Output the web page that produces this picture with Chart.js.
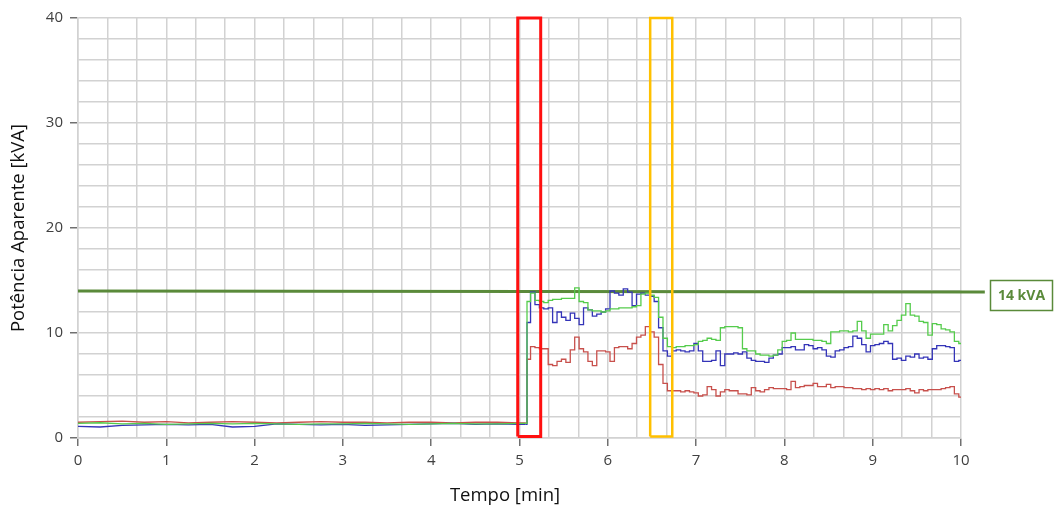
<!DOCTYPE html>
<html>
<head>
<meta charset="utf-8">
<script src="https://cdn.jsdelivr.net/npm/chart.js@4.4.1/dist/chart.umd.min.js"></script>
<style>
  html, body { margin: 0; padding: 0; background: #ffffff; }
  #wrap { width: 1054px; height: 512px; }
</style>
</head>
<body>
<div id="wrap"><canvas id="chart" width="1054" height="512"></canvas></div>
<script>
// Time axis (minutes): idle period sampled coarsely, load period finely
const idleTimes = [0, 0.25, 0.5, 0.75, 1, 1.25, 1.5, 1.75, 2, 2.25, 2.5, 2.75, 3, 3.25, 3.5, 3.75, 4, 4.25, 4.5, 4.75, 5, 5.07];
const loadTimes = [
  5.1, 5.15, 5.2, 5.25, 5.3, 5.35, 5.4, 5.45, 5.5, 5.55,
  5.6, 5.65, 5.7, 5.75, 5.8, 5.85, 5.9, 5.95, 6, 6.05,
  6.1, 6.15, 6.2, 6.25, 6.3, 6.35, 6.4, 6.45, 6.5, 6.55,
  6.6, 6.65, 6.7, 6.75, 6.8, 6.85, 6.9, 6.95, 7, 7.05,
  7.1, 7.15, 7.2, 7.25, 7.3, 7.35, 7.4, 7.45, 7.5, 7.55,
  7.6, 7.65, 7.7, 7.75, 7.8, 7.85, 7.9, 7.95, 8, 8.05,
  8.1, 8.15, 8.2, 8.25, 8.3, 8.35, 8.4, 8.45, 8.5, 8.55,
  8.6, 8.65, 8.7, 8.75, 8.8, 8.85, 8.9, 8.95, 9, 9.05,
  9.1, 9.15, 9.2, 9.25, 9.3, 9.35, 9.4, 9.45, 9.5, 9.55,
  9.6, 9.65, 9.7, 9.75, 9.8, 9.85, 9.9, 9.95, 10
];

// Apparent power per phase [kVA]
const redIdle   = [1.5, 1.55, 1.6, 1.5, 1.55, 1.45, 1.5, 1.55, 1.5, 1.45, 1.5, 1.55, 1.5, 1.5, 1.45, 1.5, 1.5, 1.45, 1.5, 1.5, 1.45, 1.45];
const greenIdle = [1.4, 1.45, 1.35, 1.4, 1.3, 1.35, 1.4, 1.35, 1.4, 1.35, 1.3, 1.35, 1.35, 1.4, 1.35, 1.3, 1.35, 1.4, 1.35, 1.35, 1.4, 1.4];
const blueIdle  = [1.1, 1.05, 1.2, 1.25, 1.3, 1.25, 1.3, 1.05, 1.1, 1.35, 1.3, 1.25, 1.3, 1.2, 1.25, 1.3, 1.35, 1.4, 1.3, 1.35, 1.3, 1.3];

const greenLoad = [
  13.0, 13.8, 13.1, 13.0, 12.9, 13.1, 13.2, 13.2, 13.3, 13.3,
  13.3, 14.3, 13.0, 12.9, 12.2, 12.1, 12.1, 12.0, 12.1, 12.3,
  12.3, 12.4, 12.4, 12.4, 12.5, 12.6, 13.7, 13.8, 13.6, 13.4,
  11.5, 9.5, 8.7, 8.6, 8.7, 8.7, 8.8, 8.8, 8.9, 9.2,
  9.3, 9.5, 9.4, 9.3, 10.5, 10.6, 10.6, 10.6, 10.5, 8.5,
  8.3, 8.3, 8.0, 7.9, 7.9, 7.8, 7.9, 8.4, 9.2, 9.3,
  10.0, 9.4, 9.4, 9.4, 9.4, 9.3, 9.3, 9.2, 9.0, 10.1,
  10.1, 10.2, 10.2, 10.1, 10.2, 11.1, 10.2, 9.5, 9.9, 9.9,
  9.9, 10.8, 10.2, 10.7, 11.2, 11.7, 12.8, 11.7, 11.6, 11.1,
  11.0, 9.8, 10.9, 10.8, 10.4, 10.3, 10.1, 9.2, 9.0
];
const blueLoad = [
  11.0, 13.9, 12.7, 12.4, 12.3, 12.4, 11.0, 12.0, 11.5, 11.2,
  11.9, 11.4, 10.8, 12.4, 12.2, 11.6, 11.8, 12.0, 12.3, 14.0,
  13.8, 13.6, 14.2, 13.9, 12.6, 13.7, 13.8, 13.6, 13.5, 13.0,
  10.5, 8.3, 7.8, 8.3, 8.4, 8.3, 8.2, 8.3, 9.0, 8.3,
  7.3, 7.3, 7.4, 8.3, 6.9, 8.0, 8.0, 8.1, 8.0, 8.2,
  7.6, 7.4, 7.3, 7.3, 7.2, 7.6, 7.9, 8.0, 8.6, 8.6,
  8.7, 8.4, 8.4, 8.9, 8.8, 8.5, 8.6, 8.4, 7.8, 7.7,
  8.3, 8.4, 8.6, 8.7, 9.7, 9.5, 8.9, 8.2, 8.8, 8.9,
  9.0, 9.2, 9.0, 7.5, 7.6, 7.4, 7.8, 7.7, 8.0, 7.6,
  7.7, 7.5, 8.5, 8.8, 8.8, 8.7, 8.6, 7.3, 7.4
];
const redLoad = [
  7.5, 8.7, 8.6, 8.5, 8.5, 7.0, 6.9, 7.3, 7.5, 7.2,
  8.4, 9.6, 8.5, 8.2, 7.3, 6.9, 8.3, 8.3, 8.2, 7.3,
  8.6, 8.7, 8.7, 8.5, 9.0, 9.6, 9.8, 10.6, 10.1, 9.6,
  7.0, 5.2, 4.5, 4.5, 4.5, 4.4, 4.5, 4.4, 4.3, 4.0,
  4.1, 4.9, 4.6, 4.0, 4.4, 4.6, 4.5, 4.5, 4.2, 4.2,
  4.1, 4.8, 4.5, 4.4, 4.6, 4.8, 4.7, 4.7, 4.7, 4.6,
  5.4, 4.8, 4.9, 5.0, 5.0, 5.2, 4.9, 4.9, 5.1, 4.8,
  4.9, 4.9, 4.8, 4.8, 4.7, 4.7, 4.6, 4.7, 4.6, 4.7,
  4.6, 4.7, 4.5, 4.6, 4.6, 4.6, 4.7, 4.5, 4.3, 4.6,
  4.5, 4.6, 4.6, 4.6, 4.7, 4.8, 4.9, 4.2, 3.9
];

// Rated power reference line
const ratedLabel = '14 kVA';
const ratedStart = { x: 0, y: 14.0 };
const ratedEnd   = { x: 10.27, y: 13.9 };

// Highlighted time windows [start, end] in minutes
const switchOnWindow = [4.98, 5.24];
const transferWindow = [6.48, 6.73];

// Axis tick settings
const yTickLabels = [0, 10, 20, 30, 40];
const xTickLabels = [0, 1, 2, 3, 4, 5, 6, 7, 8, 9, 10];

// Idle part drawn as a plain polyline, load part as a stepped trace that
// starts from the last idle sample so both pieces join up.
const idlePoints = (vals) => vals.map((v, i) => ({ x: idleTimes[i], y: v }));
const loadPoints = (idle, vals) => [{ x: idleTimes[idleTimes.length - 1], y: idle[idle.length - 1] }]
  .concat(vals.map((v, i) => ({ x: loadTimes[i], y: v })));
const windowBox = (w) => [
  { x: w[0], y: 0.15 }, { x: w[0], y: 40 }, { x: w[1], y: 40 }, { x: w[1], y: 0.15 }, { x: w[0], y: 0.15 }
];

const TEXT = '#404040';
const GRID = '#d2d2d2';
const RATED = '#5a8a3a';
const C_RED = '#c8504c', C_BLUE = '#3434b8', C_GREEN = '#55cc4c';

const tickFont = { family: "'Open Sans', 'DejaVu Sans', sans-serif", size: 15 };

const overlayText = {
  id: 'overlayText',
  afterDatasetsDraw(chart) {
    const { ctx, scales } = chart;
    const xEnd = scales.x.getPixelForValue(ratedEnd.x);
    const yMid = scales.y.getPixelForValue(ratedEnd.y);
    ctx.save();
    // rated line label box
    const bx = Math.round(xEnd + 5) + 0.5, by = Math.round(yMid - 12) + 0.5;
    const bw = 62, bh = 30;
    ctx.fillStyle = '#ffffff';
    ctx.fillRect(bx, by, bw, bh);
    ctx.strokeStyle = RATED;
    ctx.lineWidth = 1.5;
    ctx.strokeRect(bx, by, bw, bh);
    ctx.fillStyle = RATED;
    ctx.font = "bold 14px 'Open Sans', 'DejaVu Sans', sans-serif";
    ctx.textAlign = 'center';
    ctx.textBaseline = 'middle';
    ctx.fillText(ratedLabel, bx + bw / 2, by + bh / 2 + 1);
    // x-axis title
    ctx.fillStyle = '#111111';
    ctx.font = "18.5px 'Open Sans', 'DejaVu Sans', sans-serif";
    ctx.fillText('Tempo [min]', 505, 496);
    ctx.restore();
  }
};

const isMajor = (v, list) => list.some(t => Math.abs(t - v) < 1e-6);

const idleStyle = { borderWidth: 1.3 };
const loadStyle = { borderWidth: 1.3, stepped: 'middle' };

new Chart(document.getElementById('chart'), {
  type: 'line',
  data: {
    datasets: [
      { label: 'janela 1', data: windowBox(switchOnWindow), borderColor: '#ff1010', borderWidth: 3, clip: false, order: 0 },
      { label: 'janela 2', data: windowBox(transferWindow), borderColor: '#ffc000', borderWidth: 2.5, clip: false, order: 0 },
      { label: 'Fase 3', data: loadPoints(greenIdle, greenLoad), borderColor: C_GREEN, ...loadStyle, order: 1 },
      { label: 'Fase 3 (repouso)', data: idlePoints(greenIdle), borderColor: C_GREEN, ...idleStyle, order: 1 },
      { label: 'Fase 2', data: loadPoints(blueIdle, blueLoad), borderColor: C_BLUE, ...loadStyle, order: 2 },
      { label: 'Fase 2 (repouso)', data: idlePoints(blueIdle), borderColor: C_BLUE, ...idleStyle, order: 2 },
      { label: 'Fase 1', data: loadPoints(redIdle, redLoad), borderColor: C_RED, ...loadStyle, order: 3 },
      { label: 'Fase 1 (repouso)', data: idlePoints(redIdle), borderColor: C_RED, ...idleStyle, order: 3 },
      { label: ratedLabel, data: [ratedStart, ratedEnd], borderColor: RATED, borderWidth: 3, clip: false, order: 4 }
    ]
  },
  options: {
    responsive: false,
    animation: false,
    events: [],
    elements: { point: { radius: 0 }, line: { tension: 0, fill: false } },
    layout: { padding: { left: 0, right: 93, top: 18, bottom: 0 } },
    plugins: { legend: { display: false }, tooltip: { enabled: false } },
    scales: {
      x: {
        type: 'linear',
        min: 0,
        max: 10,
        afterBuildTicks(scale) {
          const t = [];
          for (let i = 0; i <= 30; i++) t.push({ value: i / 3 });
          scale.ticks = t;
        },
        afterFit(scale) { scale.height = 74; },
        grid: {
          color: GRID,
          lineWidth: 1.5,
          tickLength: 8,
          tickWidth: 1.5,
          tickColor: (c) => (c.tick && isMajor(c.tick.value, xTickLabels)) ? '#707070' : 'rgba(0,0,0,0)'
        },
        border: { color: GRID, width: 1.5 },
        ticks: {
          autoSkip: false,
          maxRotation: 0,
          padding: 6,
          color: TEXT,
          font: tickFont,
          callback: (v) => isMajor(v, xTickLabels) ? String(Math.round(v)) : ''
        }
      },
      y: {
        min: 0,
        max: 40,
        ticks: {
          stepSize: 2,
          autoSkip: false,
          padding: 7,
          color: TEXT,
          font: tickFont,
          callback: (v) => isMajor(v, yTickLabels) ? String(v) : ''
        },
        afterFit(scale) { scale.width = 78; },
        grid: {
          color: GRID,
          lineWidth: 1.5,
          tickLength: 8,
          tickWidth: 1.5,
          tickColor: (c) => (c.tick && isMajor(c.tick.value, yTickLabels)) ? '#707070' : 'rgba(0,0,0,0)'
        },
        border: { color: GRID, width: 1.5 },
        title: {
          display: true,
          text: 'Potência Aparente [kVA]',
          color: '#111111',
          font: { family: "'Open Sans', 'DejaVu Sans', sans-serif", size: 18.5 },
          padding: { top: 8, bottom: 0 }
        }
      }
    }
  },
  plugins: [overlayText]
});
</script>
</body>
</html>
